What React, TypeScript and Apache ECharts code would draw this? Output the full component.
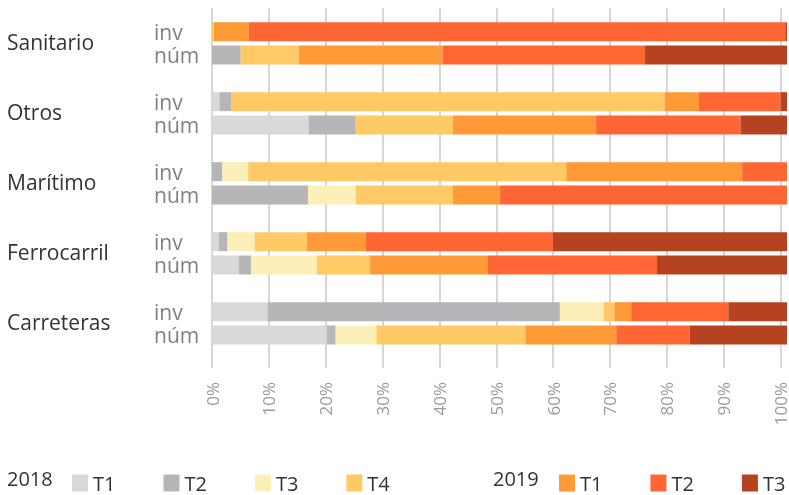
import React, { useEffect, useRef } from "react";
import * as echarts from "echarts";

const categories = ["Sanitario", "Otros", "Marítimo", "Ferrocarril", "Carreteras"];
const rowKinds = ["inv", "núm"];
const xTicks = [0, 10, 20, 30, 40, 50, 60, 70, 80, 90, 100];

// rows: San inv, San núm, Otros inv, Otros núm, Mar inv, Mar núm, Fer inv, Fer núm, Car inv, Car núm
const t1_2018 = [0, 0, 1.3, 16.8, 0, 0, 1.2, 4.7, 9.7, 20.0];
const t2_2018 = [0, 5.0, 2.0, 8.2, 1.8, 16.7, 1.5, 2.1, 50.8, 1.5];
const t3_2018 = [0, 0, 0, 0, 4.5, 8.3, 4.7, 11.4, 7.6, 7.1];
const t4_2018 = [0.3, 10.1, 75.4, 16.9, 55.3, 16.9, 9.1, 9.3, 1.9, 25.9];
const t1_2019 = [6.1, 25.0, 6.0, 24.9, 30.6, 8.2, 10.2, 20.5, 2.9, 15.8];
const t2_2019 = [93.3, 35.2, 14.2, 25.1, 7.8, 49.9, 32.6, 29.4, 16.9, 12.8];
const t3_2019 = [0.3, 24.7, 1.1, 8.1, 0, 0, 40.7, 22.6, 10.2, 16.9];

const seriesDefs = [
  { name: "2018 T1", data: t1_2018, color: "#d9d9d9" },
  { name: "2018 T2", data: t2_2018, color: "#b6b6b9" },
  { name: "2018 T3", data: t3_2018, color: "#fcf0b8" },
  { name: "2018 T4", data: t4_2018, color: "#ffc965" },
  { name: "2019 T1", data: t1_2019, color: "#ff9a36" },
  { name: "2019 T2", data: t2_2019, color: "#ff6633" },
  { name: "2019 T3", data: t3_2019, color: "#b54322" },
];

const FONT = "'Open Sans', 'Noto Sans', sans-serif";
const H = 540;

function expand(vals: number[]) {
  // 3 slots per category: inv, núm, spacer
  const out: any[] = [];
  for (let c = 0; c < categories.length; c++) {
    out.push(vals[c * 2] || 0, vals[c * 2 + 1] || 0, "-");
  }
  return out;
}

export default function App() {
  const ref = useRef<HTMLDivElement>(null);
  useEffect(() => {
    if (!ref.current) return;
    document.body.style.overflow = "hidden";
    const chart = echarts.init(ref.current, undefined, { renderer: "svg" });
    const slotLabels: string[] = [];
    categories.forEach(() => {
      slotLabels.push(rowKinds[0], rowKinds[1], "");
    });
    const legendCommon = {
      orient: "horizontal",
      top: 473,
      width: 400,
      padding: 0,
      itemWidth: 16,
      itemHeight: 17,
      itemGap: 48,
      icon: "rect",
      selectedMode: false,
      formatter: (n: string) => n.split(" ")[1],
      textStyle: { fontFamily: FONT, fontSize: 20, color: "#333", lineHeight: 17 },
    };
    chart.setOption({
      animation: false,
      grid: [
        { left: 212, right: 2, top: 20, bottom: H - 370 },
        { left: 212, right: 2, top: 8, bottom: H - 368 },
      ],
      xAxis: [
        { type: "value", gridIndex: 0, min: 0, max: 100, show: false },
        {
          type: "value",
          gridIndex: 1,
          min: xTicks[0],
          max: xTicks[xTicks.length - 1],
          interval: 10,
          axisLine: { show: false },
          axisTick: { show: false },
          splitLine: { show: true, lineStyle: { color: "#c8c8c8", width: 1.5 } },
          axisLabel: {
            rotate: 90,
            margin: 14,
            fontFamily: FONT,
            fontSize: 17,
            color: "#9a9a9a",
            formatter: "{value}%",
          },
        },
      ],
      yAxis: [
        {
          type: "category",
          gridIndex: 0,
          inverse: true,
          data: slotLabels,
          axisLine: { show: false },
          axisTick: { show: false },
          splitLine: { show: false },
          axisLabel: {
            align: "left",
            margin: 58,
            fontFamily: FONT,
            fontSize: 21,
            color: "#808080",
            interval: 0,
          },
        },
        {
          type: "category",
          gridIndex: 0,
          inverse: true,
          position: "left",
          data: categories,
          axisLine: { show: false },
          axisTick: { show: false },
          splitLine: { show: false },
          axisLabel: {
            align: "left",
            verticalAlign: "bottom",
            lineHeight: 26,
            margin: 205,
            fontFamily: FONT,
            fontSize: 21,
            color: "#333",
            interval: 0,
          },
        },
        { type: "value", gridIndex: 1, show: false },
      ],
      legend: [
        { ...legendCommon, left: 72, data: seriesDefs.slice(0, 4).map((s) => s.name) },
        { ...legendCommon, left: 559, data: seriesDefs.slice(4).map((s) => s.name) },
      ],
      graphic: [
        {
          type: "text",
          left: 7,
          top: 468,
          style: { text: "2018", font: `20px ${FONT}`, fill: "#333" },
        },
        {
          type: "text",
          left: 493,
          top: 468,
          style: { text: "2019", font: `20px ${FONT}`, fill: "#333" },
        },
      ],
      series: seriesDefs.map((s) => ({
        name: s.name,
        type: "bar",
        stack: "total",
        xAxisIndex: 0,
        yAxisIndex: 0,
        barWidth: 19,
        data: expand(s.data),
        itemStyle: { color: s.color },
        emphasis: { disabled: true },
      })),
    });
    return () => chart.dispose();
  }, []);
  return (
    <div
      ref={ref}
      style={{ position: "fixed", left: 0, top: 0, width: 789, height: H }}
    />
  );
}
